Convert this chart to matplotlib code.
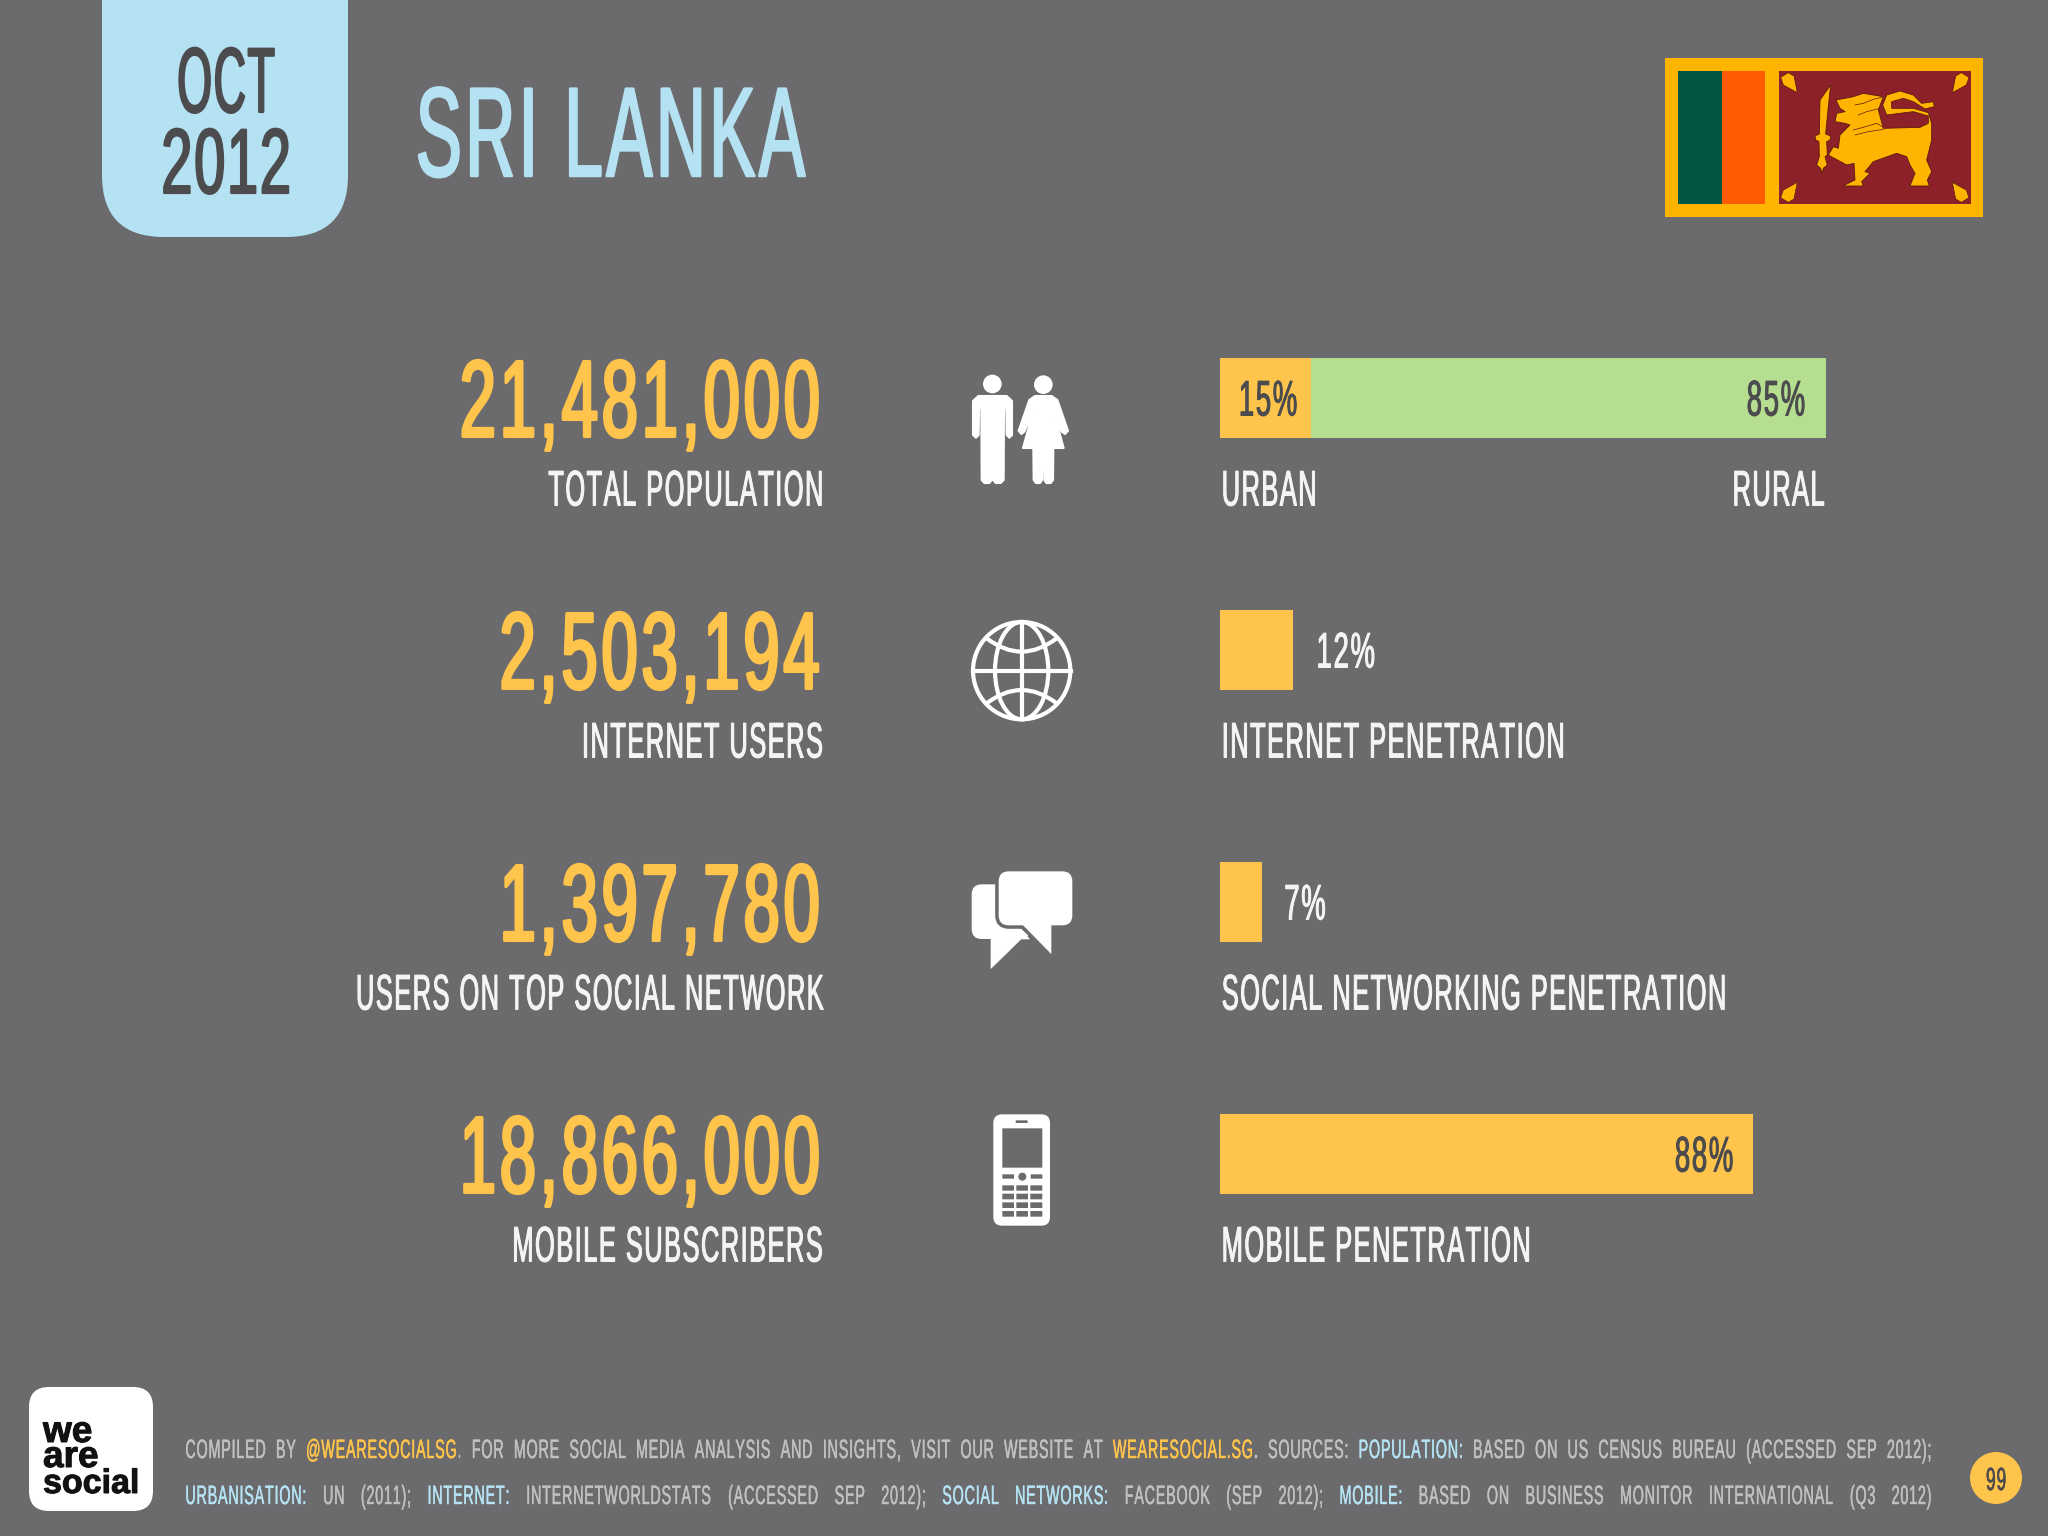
import matplotlib
matplotlib.use("Agg")
import matplotlib.pyplot as plt
import matplotlib.patheffects as pe
from matplotlib import font_manager as fm
from matplotlib.patches import Rectangle, Circle, Ellipse, Polygon, FancyBboxPatch, PathPatch
from matplotlib.path import Path
from fontTools.ttLib import TTFont

# ---------------- data ----------------
metric_values = ["21,481,000", "2,503,194", "1,397,780", "18,866,000"]
metric_labels = ["TOTAL POPULATION", "INTERNET USERS", "USERS ON TOP SOCIAL NETWORK", "MOBILE SUBSCRIBERS"]
penetration_labels = ["INTERNET PENETRATION", "SOCIAL NETWORKING PENETRATION", "MOBILE PENETRATION"]
penetration_values = [12, 7, 88]
urban_share = 15
rural_share = 85
title = "SRI LANKA"
month = "OCT"
year = "2012"
page = "99"

BG = "#6b6a6c"
YEL = "#ffc44b"
BLUE = "#b5e2f3"
GREEN = "#b6de90"
DARK = "#4c4c4e"
WHITE = "#f4f4f4"
GREY = "#c0bfc1"


def condensed(scale, track, name):
    """Derive a narrower, letter-spaced face from Liberation Sans Narrow (track in em)."""
    try:
        src = fm.findfont("Liberation Sans Narrow", fallback_to_default=False)
    except Exception:
        src = fm.findfont("Liberation Sans")
        scale *= 0.82
    f = TTFont(src)
    glyf = f["glyf"]
    upem = f["head"].unitsPerEm
    tr = int(track * upem)
    dx = tr // 2
    names = list(glyf.keys())
    for g in names:
        gl = glyf[g]
        if not gl.isComposite() and gl.numberOfContours > 0:
            gl.coordinates.scale((scale, 1))
            gl.coordinates.translate((dx, 0))
            gl.coordinates.toInt()
            gl.removeHinting()
            gl.recalcBounds(glyf)
    for g in names:
        gl = glyf[g]
        if gl.isComposite():
            for c in gl.components:
                c.x = int(c.x * scale) - dx
            if hasattr(gl, "program"):
                gl.removeHinting()
            gl.recalcBounds(glyf)
    hm = f["hmtx"]
    for g, (a, l) in list(hm.metrics.items()):
        gl = glyf[g]
        lsb = gl.xMin if gl.numberOfContours != 0 else 0
        hm.metrics[g] = (int(a * scale) + tr, lsb)
    for t in ["fpgm", "prep", "cvt ", "hdmx", "VDMX", "LTSH", "kern", "GPOS", "GSUB", "GDEF"]:
        if t in f:
            del f[t]
    for n in f["name"].names:
        if n.nameID in (1, 4, 16):
            n.string = name
        elif n.nameID == 6:
            n.string = name.replace(" ", "")
    path = name.replace(" ", "") + ".ttf"
    f.save(path)
    fm.fontManager.addfont(path)
    return fm.FontProperties(fname=path)


F_BIG = condensed(0.73, 0.035, "Cond Big")
F_TITLE = condensed(0.66, 0.03, "Cond Title")
F_MON = condensed(0.59, 0.02, "Cond Mon")
F_YEAR = condensed(0.74, 0.02, "Cond Year")
F_LAB = condensed(0.62, 0.03, "Cond Lab")
F_PCT = condensed(0.67, 0.035, "Cond Pct")
F_FOOT = condensed(0.66, 0.03, "Cond Foot")


def fs(px):
    return px * 0.72


W, H = 2048, 1536
fig = plt.figure(figsize=(20.48, 15.36), dpi=100, facecolor=BG)
ax = fig.add_axes([0, 0, 1, 1])
ax.set_xlim(0, W)
ax.set_ylim(H, 0)
ax.axis("off")


def txt(x, y, s, px, fp, color, ha="left", bold=0.0):
    t = ax.text(x, y, s, fontproperties=fp, fontsize=fs(px), color=color, ha=ha, va="baseline")
    if bold:
        t.set_path_effects([pe.withStroke(linewidth=bold, foreground=color)])
    return t


# ---------------- header ----------------
tab = FancyBboxPatch((102 + 62, -80 + 62), 246 - 124, 317 - 124,
                     boxstyle="round,pad=62,rounding_size=62", fc=BLUE, ec="none")
ax.add_patch(tab)
txt(226, 112, month, 92, F_MON, DARK, "center", 1.6)
txt(226, 193, year, 92, F_YEAR, DARK, "center", 1.6)
txt(414, 176, title, 127, F_TITLE, BLUE, bold=1.8)

# flag (decoration)
fx = lambda p: 1620 + p / 3
fy = lambda p: 40 + p / 3
FY, FG, FO, FM = "#ffb400", "#005641", "#ff5b00", "#8d2129"
ax.add_patch(Rectangle((1665, 58), 318, 159, fc=FY, ec="none"))
ax.add_patch(Rectangle((1678, 71), 44, 133, fc=FG, ec="none"))
ax.add_patch(Rectangle((1722, 71), 43, 133, fc=FO, ec="none"))
ax.add_patch(Rectangle((1779, 71), 192, 133, fc=FM, ec="none"))
lion = [(648, 180), (700, 170), (730, 160), (790, 170), (775, 210), (790, 265), (900, 262), (925, 250), (925, 228),
        (880, 215), (800, 225), (788, 195), (800, 165), (840, 153), (880, 165), (905, 190), (940, 185), (943, 200),
        (915, 207), (880, 185), (850, 175), (815, 185), (815, 205), (880, 205), (925, 218), (935, 250), (935, 300),
        (920, 360), (935, 395), (922, 420), (928, 438), (870, 438), (885, 400), (870, 375), (860, 350), (830, 340),
        (760, 365), (735, 395), (750, 400), (725, 425), (730, 438), (668, 438), (705, 420), (702, 370), (680, 375),
        (625, 345), (640, 320), (655, 325), (660, 285), (690, 255), (675, 250), (645, 245), (650, 220), (675, 215),
        (660, 205)]
sword = [(598, 282), (600, 180), (632, 135), (625, 200), (617, 282), (632, 288), (630, 300), (620, 305), (622, 345),
         (615, 350), (622, 375), (610, 385), (606, 402), (602, 385), (590, 375), (598, 350), (597, 305), (587, 300),
         (585, 288)]
leaf = [(482, 112), (505, 98), (522, 108), (532, 158), (490, 135)]
for poly in [lion, sword]:
    ax.add_patch(Polygon([(fx(a), fy(b)) for a, b in poly], fc=FY, ec="#5a1a10", lw=0.6, joinstyle="round"))
for sx, sy in [(0, 0), (1, 0), (0, 1), (1, 1)]:
    pts = []
    for a, b in leaf:
        a2 = 1529 - a if sx else a
        b2 = 585 - b if sy else b
        pts.append((fx(a2), fy(b2)))
    ax.add_patch(Polygon(pts, fc=FY, ec="#5a1a10", lw=0.5, joinstyle="round"))
for zig in [[(705, 195), (730, 190), (760, 178), (785, 172)],
            [(715, 225), (740, 215), (780, 205)],
            [(700, 270), (730, 262), (770, 250), (790, 262)],
            [(705, 285), (745, 275), (790, 268)]]:
    ax.plot([fx(a) for a, _ in zig], [fy(b) for _, b in zig], color="#5a1a10", lw=0.5)

# ---------------- metrics on the left ----------------
row_y = [398.5, 650.5, 902.5, 1154.5]
for i in range(4):
    txt(821, row_y[i] + 38, metric_values[i], 109, F_BIG, YEL, "right", 2.2)
    txt(823, row_y[i] + 107, metric_labels[i], 50, F_LAB, WHITE, "right", 0.7)

# ---------------- bars ----------------
bx0, bx1 = 1220, 1826
spacing = 252
btop = row_y[0] - spacing / 2 - 1
bax = fig.add_axes([bx0 / W, 1 - (btop + 4 * spacing) / H, (bx1 - bx0) / W, 4 * spacing / H])
bax.set_xlim(0, 100)
bax.set_ylim(3.5, -0.5)
bax.axis("off")
bh = 80 / spacing
bax.barh([0], [urban_share], height=bh, color=YEL)
bax.barh([0], [rural_share], left=[urban_share], height=bh, color=GREEN)
bax.barh([1, 2, 3], penetration_values, height=bh, color=YEL)


def ann(x, row, s, dx, color, ha):
    t = bax.annotate(s, (x, row), xytext=(dx * 0.72, -18 * 0.72), textcoords="offset points", fontproperties=F_PCT,
                     fontsize=fs(50), color=color, ha=ha, va="baseline")
    t.set_path_effects([pe.withStroke(linewidth=0.7, foreground=color)])


ann(0, 0, f"{urban_share}%", 18, DARK, "left")
ann(100, 0, f"{rural_share}%", -20, DARK, "right")
ann(12, 1, f"{penetration_values[0]}%", 23, WHITE, "left")
ann(7, 2, f"{penetration_values[1]}%", 21, WHITE, "left")
ann(88, 3, f"{penetration_values[2]}%", -19, DARK, "right")

txt(1221, row_y[0] + 107, "URBAN", 50, F_LAB, WHITE, bold=0.7)
txt(1825, row_y[0] + 107, "RURAL", 50, F_LAB, WHITE, "right", 0.7)
for i, lab in enumerate(penetration_labels):
    txt(1221, row_y[i + 1] + 107, lab, 50, F_LAB, WHITE, bold=0.7)

# ---------------- icons ----------------
ICON = "#ffffff"
ix = lambda p: 940 + p / 3
iy = lambda p: 340 + p / 3
jy = lambda p: 850 + p / 3


def ipoly(pts, yf, fc=ICON, **kw):
    ax.add_patch(Polygon([(ix(a), yf(b)) for a, b in pts], fc=fc, ec=kw.pop("ec", fc), joinstyle="round",
                         lw=kw.pop("lw", 1.5), **kw))


def irr(x0, y0, x1, y1, r, yf, fc=ICON, **kw):
    rp = r / 3
    ax.add_patch(FancyBboxPatch((ix(x0) + rp, yf(y0) + rp), (x1 - x0) / 3 - 2 * rp, (y1 - y0) / 3 - 2 * rp,
                                boxstyle=f"round,pad={rp},rounding_size={rp}", fc=fc, ec=kw.pop("ec", "none"),
                                lw=kw.pop("lw", 0), **kw))


ax.add_patch(Circle((ix(157), iy(132)), 28 / 3, fc=ICON, ec="none"))
ax.add_patch(Circle((ix(310), iy(134)), 28 / 3, fc=ICON, ec="none"))
man = [(115, 168), (200, 168), (216, 183), (216, 285), (208, 293), (200, 285), (199, 205), (192, 205), (191, 420),
       (182, 429), (167, 429), (160, 420), (160, 295), (155, 295), (155, 420), (148, 429), (133, 429), (125, 420),
       (124, 205), (117, 205), (116, 285), (108, 293), (99, 285), (99, 183)]
woman = [(285, 168), (335, 168), (352, 180), (384, 272), (375, 282), (365, 275), (340, 212), (371, 324), (340, 324),
         (339, 420), (332, 429), (319, 429), (313, 420), (312, 324), (307, 324), (306, 420), (300, 429), (288, 429),
         (281, 420), (280, 324), (249, 324), (280, 212), (253, 275), (244, 282), (236, 272), (268, 180)]
ipoly(man, iy)
ipoly(woman, iy)

# globe
gcx, gcy = ix(245), iy(992)
LW = 3.0
ax.add_patch(Circle((gcx, gcy), 146 / 3, fc="none", ec=ICON, lw=LW))
ax.add_patch(Ellipse((gcx, gcy), 160 / 3, 292 / 3, fc="none", ec=ICON, lw=LW))
ax.plot([gcx, gcx], [iy(846), iy(1138)], color=ICON, lw=LW)
ax.plot([ix(98), ix(392)], [gcy, gcy], color=ICON, lw=LW)
for a, ctrl, b in [((140, 895), (245, 975), (350, 895)), ((140, 1090), (245, 1010), (350, 1090))]:
    p = Path([(ix(a[0]), iy(a[1])), (ix(ctrl[0]), iy(ctrl[1])), (ix(b[0]), iy(b[1]))],
             [Path.MOVETO, Path.CURVE3, Path.CURVE3])
    ax.add_patch(PathPatch(p, fc="none", ec=ICON, lw=LW))

# chat bubbles
irr(95, 103, 270, 267, 30, jy)
ipoly([(153, 260), (153, 355), (243, 267), (268, 267), (240, 235)], jy, lw=0.5)
irr(176, 64, 397, 226, 30, jy, ec=BG, lw=5)
ipoly([(245, 226), (333, 310), (333, 226)], jy, ec=BG, lw=4)
ipoly([(250, 225), (333, 310), (333, 225)], jy, lw=0.5)
irr(176, 64, 397, 226, 30, jy)

# phone
irr(160, 793, 330, 1127, 26, jy)
irr(187, 835, 307, 953, 1, jy, fc=BG)
irr(227, 811, 263, 819, 2, jy, fc=BG)
irr(187, 973, 222, 986, 1, jy, fc=BG)
irr(272, 973, 307, 986, 1, jy, fc=BG)
ax.add_patch(Circle((ix(247), jy(980)), 4, fc=BG, ec="none"))
for r0, r1 in [(1006, 1022), (1031, 1048), (1057, 1074), (1083, 1100)]:
    for c0, c1 in [(187, 222), (229, 264), (271, 307)]:
        irr(c0, r0, c1, r1, 1, jy, fc=BG)

# ---------------- logo ----------------
irr0 = FancyBboxPatch((29 + 20, 1387 + 20), 124 - 40, 124 - 40, boxstyle="round,pad=20,rounding_size=20", fc="white",
                      ec="none")
ax.add_patch(irr0)
LOGO = fm.FontProperties(family=["Liberation Sans", "DejaVu Sans"], weight="bold")
for s, y, px in [("we", 1442, 37), ("are", 1467, 37), ("social", 1493, 34)]:
    t = ax.text(43, y, s, fontproperties=LOGO, fontsize=fs(px), color="#111111", ha="left", va="baseline")
    t.set_path_effects([pe.withStroke(linewidth=0.7, foreground="#111111")])

# ---------------- footer ----------------
line1 = [("COMPILED", GREY), ("BY", GREY), ("@WEARESOCIALSG", YEL), ("|.", GREY), ("FOR", GREY), ("MORE", GREY),
         ("SOCIAL", GREY), ("MEDIA", GREY), ("ANALYSIS", GREY), ("AND", GREY), ("INSIGHTS,", GREY), ("VISIT", GREY),
         ("OUR", GREY), ("WEBSITE", GREY), ("AT", GREY), ("WEARESOCIAL.SG", YEL), ("|.", GREY), ("SOURCES:", GREY),
         ("POPULATION:", BLUE), ("BASED", GREY), ("ON", GREY), ("US", GREY), ("CENSUS", GREY), ("BUREAU", GREY),
         ("(ACCESSED", GREY), ("SEP", GREY), ("2012);", GREY)]
line2 = [("URBANISATION:", BLUE), ("UN", GREY), ("(2011);", GREY), ("INTERNET:", BLUE), ("INTERNETWORLDSTATS", GREY),
         ("(ACCESSED", GREY), ("SEP", GREY), ("2012);", GREY), ("SOCIAL", BLUE), ("NETWORKS:", BLUE),
         ("FACEBOOK", GREY), ("(SEP", GREY), ("2012);", GREY), ("MOBILE:", BLUE), ("BASED", GREY), ("ON", GREY),
         ("BUSINESS", GREY), ("MONITOR", GREY), ("INTERNATIONAL", GREY), ("(Q3", GREY), ("2012)", GREY)]
fig.canvas.draw()
rend = fig.canvas.get_renderer()
for toks, y in [(line1, 1458), (line2, 1504)]:
    items = []
    for s, c in toks:
        glue = s.startswith("|")
        t = txt(0, y, s.lstrip("|"), 26.5, F_FOOT, c, bold=0.3)
        items.append((t, t.get_window_extent(rend).width, glue))
    total = sum(w for _, w, _ in items)
    gaps = sum(0 if g else 1 for _, _, g in items[1:])
    gap = (1932 - 185 - total) / gaps
    x = 185
    for k, (t, w, g) in enumerate(items):
        if k and not g:
            x += gap
        t.set_x(x)
        x += w

# page marker
ax.add_patch(Ellipse((1996, 1478), 52, 52, fc=YEL, ec="none"))
txt(1996, 1490, page, 32, F_FOOT, DARK, "center", 0.4)

fig.savefig("out.png", dpi=100, facecolor=BG)
